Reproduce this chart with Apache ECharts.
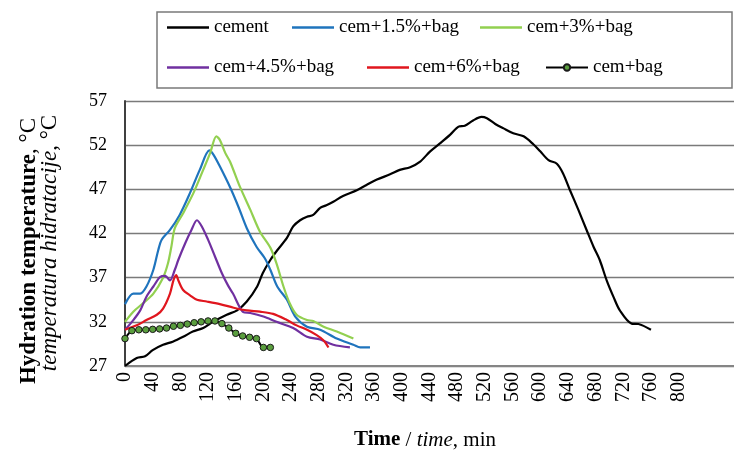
<!DOCTYPE html>
<html>
<head>
<meta charset="utf-8">
<script src="https://cdn.jsdelivr.net/npm/echarts@6/dist/echarts.min.js"></script>
<style>
html,body{margin:0;padding:0;background:#fff;}
#chart{width:734px;height:452px;}
</style>
</head>
<body>
<div id="chart"></div>
<script>
// ---- data (time in min, temperature in °C) ----
var seriesNames = ['cement', 'cem+1.5%+bag', 'cem+3%+bag', 'cem+4.5%+bag', 'cem+6%+bag', 'cem+bag'];

var cementTime = [0, 17, 29, 40, 55, 69, 84, 98, 113, 127, 147, 162, 176, 191, 199, 210, 220, 234, 243, 253, 263, 272, 282, 291, 301, 315, 335, 349, 364, 383, 397, 412, 426, 441, 455, 470, 482, 491, 503, 515, 523, 535, 547, 561, 576, 590, 600, 612, 624, 633, 643, 655, 667, 677, 686, 696, 706, 715, 732, 742, 760];
var cementTemp = [27.0, 27.9, 28.1, 28.8, 29.4, 29.75, 30.3, 30.9, 31.3, 32.0, 32.8, 33.3, 34.3, 36.0, 37.5, 39.0, 40.1, 41.5, 42.8, 43.5, 43.9, 44.1, 44.9, 45.2, 45.6, 46.25, 46.9, 47.5, 48.1, 48.7, 49.2, 49.5, 50.1, 51.3, 52.2, 53.2, 54.1, 54.2, 54.8, 55.2, 55.05, 54.4, 53.9, 53.35, 53.0, 52.1, 51.3, 50.3, 49.9, 48.8, 46.9, 44.7, 42.4, 40.5, 39.0, 36.7, 34.8, 33.3, 31.8, 31.75, 31.1];

var c15Time = [0, 12, 22, 31, 41, 48, 53, 65, 79, 94, 108, 122, 128, 137, 152, 164, 176, 190, 202, 210, 220, 234, 246, 263, 282, 306, 330, 340, 354];
var c15Temp = [34.0, 35.2, 35.2, 36.0, 37.9, 40.1, 41.3, 42.4, 44.1, 46.6, 49.2, 51.4, 50.9, 49.6, 47.2, 45.0, 42.6, 40.5, 39.2, 37.9, 36.0, 34.5, 32.6, 31.45, 31.1, 30.1, 29.4, 29.1, 29.1];

var c3Time = [0, 12, 26, 41, 55, 62, 67, 72, 84, 99, 113, 123, 132, 137, 145, 152, 166, 181, 195, 210, 219, 229, 238, 248, 263, 272, 287, 306, 330];
var c3Temp = [32.0, 33.15, 34.1, 35.2, 37.0, 38.6, 40.5, 42.6, 44.3, 46.6, 49.2, 51.1, 53.0, 52.6, 51.1, 50.1, 47.3, 44.7, 42.2, 40.4, 38.6, 36.0, 34.1, 32.8, 32.2, 32.1, 31.45, 30.9, 30.1];

var c45Time = [0, 12, 22, 31, 41, 51, 58, 65, 72, 77, 87, 96, 104, 111, 120, 130, 140, 149, 156, 171, 181, 200, 219, 243, 263, 282, 301, 325];
var c45Temp = [31.1, 32.2, 33.3, 34.85, 36.0, 37.1, 37.2, 36.7, 37.9, 39.0, 40.9, 42.4, 43.5, 42.8, 41.3, 39.4, 37.5, 36.1, 35.2, 33.1, 33.0, 32.6, 32.0, 31.3, 30.3, 30.0, 29.4, 29.1];

var c6Time = [0, 17, 31, 46, 55, 65, 70, 74, 77, 84, 94, 104, 118, 137, 157, 176, 195, 214, 234, 248, 263, 277, 287, 294];
var c6Temp = [31.1, 31.6, 32.2, 32.8, 33.5, 35.2, 36.7, 37.3, 36.7, 35.6, 35.0, 34.5, 34.3, 34.0, 33.6, 33.3, 33.15, 32.9, 32.2, 31.6, 31.1, 30.5, 29.9, 29.1];

var bagTime = [0, 10, 20, 30, 40, 50, 60, 70, 80, 90, 100, 110, 120, 130, 140, 150, 160, 170, 180, 190, 200, 210];
var bagTemp = [30.1, 31.0, 31.1, 31.1, 31.15, 31.2, 31.3, 31.5, 31.6, 31.75, 31.9, 32.0, 32.1, 32.1, 31.8, 31.3, 30.7, 30.4, 30.25, 30.1, 29.1, 29.1];

var xTickMax = 800;
var yTitle1 = 'Hydration temperature';
var yTitle2 = 'temperatura hidratacije';

function pairs(t, v) { return t.map(function (x, i) { return [x, v[i]]; }); }

var FONT = 'Liberation Serif';
var chart = echarts.init(document.getElementById('chart'), null, {renderer: 'canvas'});

function lineSeries(name, t, v, color) {
  return {
    name: name, type: 'line', data: pairs(t, v), smooth: 0.3, symbol: 'none',
    lineStyle: {color: color, width: 2.2}, itemStyle: {color: color}
  };
}

function leg(name, left, top, withMarker) {
  var l = {
    data: [name], left: left, top: top, padding: 0, itemWidth: 42,
    itemHeight: withMarker ? 8 : 2.4,
    itemGap: 0, selectedMode: false,
    textStyle: {fontFamily: FONT, fontSize: 19, color: '#000'}
  };
  if (!withMarker) { l.icon = 'rect'; }
  return l;
}

var option = {
  animation: false,
  backgroundColor: '#fff',
  grid: {left: 125, right: 0, top: 101, bottom: 86, show: false},
  legend: [
    leg(seriesNames[0], 167, 18, false),
    leg(seriesNames[1], 292, 18, false),
    leg(seriesNames[2], 480, 18, false),
    leg(seriesNames[3], 167, 58, false),
    leg(seriesNames[4], 367, 58, false),
    leg(seriesNames[5], 545, 58, true)
  ],
  xAxis: {
    type: 'value', min: 0, max: 880, interval: 40,
    axisLine: {show: true, onZero: false, lineStyle: {color: '#858585', width: 2}},
    axisTick: {show: false},
    splitLine: {show: false},
    axisLabel: {
      rotate: 90, margin: 6, fontFamily: FONT, fontSize: 20, color: '#000',
      formatter: function (v) { return v <= xTickMax ? String(v) : ''; }
    }
  },
  yAxis: {
    type: 'value', min: 27, max: 57, interval: 5,
    axisLine: {show: true, lineStyle: {color: '#404040', width: 2}},
    axisTick: {show: false},
    splitLine: {show: true, lineStyle: {color: '#7a7a7a', width: 1.4}},
    axisLabel: {margin: 18, fontFamily: FONT, fontSize: 18, color: '#000'}
  },
  graphic: [
    {type: 'rect', shape: {x: 157, y: 12, width: 575, height: 76},
     style: {fill: 'none', stroke: '#7a7a7a', lineWidth: 1.5}, silent: true},
    {type: 'text', x: 29, y: 251, rotation: Math.PI / 2,
     style: {text: '{b|' + yTitle1 + '}{r|, °C}', align: 'center', verticalAlign: 'middle',
       fontFamily: FONT, fontSize: 23, fill: '#000',
       rich: {b: {fontFamily: FONT, fontSize: 23, fontWeight: 'bold', fill: '#000'},
              r: {fontFamily: FONT, fontSize: 23, fill: '#000'}}}},
    {type: 'text', x: 50, y: 243, rotation: Math.PI / 2,
     style: {text: '{i|' + yTitle2 + '}{r|, °C}', align: 'center', verticalAlign: 'middle',
       fontFamily: FONT, fontSize: 23, fill: '#000',
       rich: {i: {fontFamily: FONT, fontSize: 23, fontStyle: 'italic', fill: '#000'},
              r: {fontFamily: FONT, fontSize: 23, fill: '#000'}}}},
    {type: 'text', x: 425, y: 440,
     style: {text: '{b|Time}{r| / }{i|time}{r|, min}', align: 'center', verticalAlign: 'middle',
       fontFamily: FONT, fontSize: 21, fill: '#000',
       rich: {b: {fontFamily: FONT, fontSize: 21, fontWeight: 'bold', fill: '#000'},
              i: {fontFamily: FONT, fontSize: 21, fontStyle: 'italic', fill: '#000'},
              r: {fontFamily: FONT, fontSize: 21, fill: '#000'}}}}
  ],
  series: [
    lineSeries(seriesNames[0], cementTime, cementTemp, '#000000'),
    lineSeries(seriesNames[1], c15Time, c15Temp, '#1f74bd'),
    lineSeries(seriesNames[2], c3Time, c3Temp, '#92d050'),
    lineSeries(seriesNames[3], c45Time, c45Temp, '#7030a0'),
    lineSeries(seriesNames[4], c6Time, c6Temp, '#e0161e'),
    {
      name: seriesNames[5], type: 'line', data: pairs(bagTime, bagTemp), smooth: 0.3,
      symbol: 'circle', symbolSize: 6.5, showSymbol: true,
      lineStyle: {color: '#000000', width: 2},
      itemStyle: {color: '#5a9e3e', borderColor: '#1a1a1a', borderWidth: 1}
    }
  ]
};
chart.setOption(option);
</script>
</body>
</html>
